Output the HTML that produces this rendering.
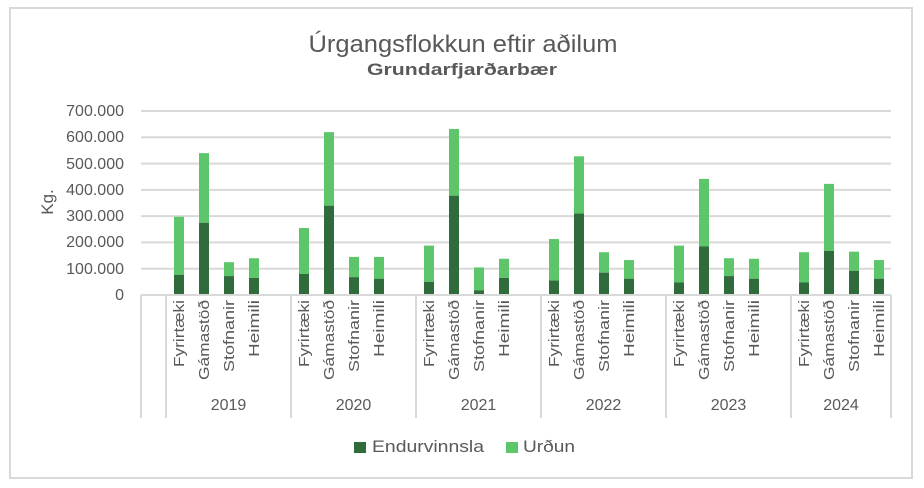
<!DOCTYPE html>
<html><head><meta charset="utf-8"><style>
html,body{margin:0;padding:0;background:#fff;}
svg{display:block;font-family:"Liberation Sans",sans-serif;}
</style></head><body>
<svg width="924" height="488" viewBox="0 0 924 488" xmlns="http://www.w3.org/2000/svg">
<rect x="10" y="8" width="902" height="470" fill="#fff" stroke="#d9d9d9" stroke-width="2"/>
<text x="463" y="52" text-anchor="middle" font-size="24" fill="#595959" textLength="309" lengthAdjust="spacingAndGlyphs">Úrgangsflokkun eftir aðilum</text>
<text x="462" y="75" text-anchor="middle" font-size="17" font-weight="bold" fill="#595959" textLength="190" lengthAdjust="spacingAndGlyphs">Grundarfjarðarbær</text>
<g stroke="#d9d9d9" stroke-width="2">
<line x1="141" x2="891" y1="111" y2="111"/>
<line x1="141" x2="891" y1="137.3" y2="137.3"/>
<line x1="141" x2="891" y1="163.6" y2="163.6"/>
<line x1="141" x2="891" y1="189.9" y2="189.9"/>
<line x1="141" x2="891" y1="216.1" y2="216.1"/>
<line x1="141" x2="891" y1="242.4" y2="242.4"/>
<line x1="141" x2="891" y1="268.7" y2="268.7"/>
</g>
<g font-size="16" fill="#595959" text-anchor="end">
<text x="124" y="116">700.000</text>
<text x="124" y="142">600.000</text>
<text x="124" y="169">500.000</text>
<text x="124" y="195">400.000</text>
<text x="124" y="221">300.000</text>
<text x="124" y="247">200.000</text>
<text x="124" y="274">100.000</text>
<text x="124" y="300">0</text>
</g>
<text transform="translate(53,202) rotate(-90)" text-anchor="middle" font-size="17" fill="#595959">Kg.</text>
<g id="bars"></g>
<g stroke="#d9d9d9" stroke-width="2">
<line x1="141" x2="891" y1="295" y2="295"/>
<line x1="141" x2="141" y1="295" y2="418"/>
<line x1="166" x2="166" y1="295" y2="418"/>
<line x1="291" x2="291" y1="295" y2="418"/>
<line x1="416" x2="416" y1="295" y2="418"/>
<line x1="541" x2="541" y1="295" y2="418"/>
<line x1="666" x2="666" y1="295" y2="418"/>
<line x1="791" x2="791" y1="295" y2="418"/>
<line x1="891" x2="891" y1="295" y2="418"/>
</g>
<g id="labels" font-size="15" fill="#595959"></g>
<rect x="354" y="442" width="12" height="11" fill="#2f6b3b"/>
<text x="372" y="452" font-size="17" fill="#595959" textLength="112" lengthAdjust="spacingAndGlyphs">Endurvinnsla</text>
<rect x="506" y="442" width="12" height="11" fill="#5dc66a"/>
<text x="523" y="452" font-size="17" fill="#595959" textLength="52" lengthAdjust="spacingAndGlyphs">Urðun</text>
<script>
var d=[[[298,77],[540,275],[125,72],[140,65]],[[255,80],[620,340],[145,68],[145,62]],[[188,50],[632,378],[105,18],[138,65]],[[213,55],[528,310],[163,85],[133,62]],[[188,48],[442,185],[140,72],[138,62]],[[163,48],[423,168],[165,92],[133,62]]];
var names=["Fyrirtæki","Gámastöð","Stofnanir","Heimili"],lens=[67,80,72,57],yrs=["2019","2020","2021","2022","2023","2024"];
var s=0.2627,ns="http://www.w3.org/2000/svg",b=document.getElementById("bars"),l=document.getElementById("labels");
function el(t,a,p,txt){var e=document.createElementNS(ns,t);for(var k in a)e.setAttribute(k,a[k]);if(txt)e.textContent=txt;p.appendChild(e);}
for(var g=0;g<6;g++){for(var i=0;i<4;i++){var cx=179+g*125+i*25,t=d[g][i][0]*s,k=d[g][i][1]*s;
el("rect",{x:cx-5,y:295-t,width:10,height:t-k,fill:"#5dc66a"},b);
el("rect",{x:cx-5,y:295-k,width:10,height:k,fill:"#2f6b3b"},b);
el("text",{transform:"translate("+(cx+5)+",300) rotate(-90)","text-anchor":"end",textLength:lens[i],lengthAdjust:"spacingAndGlyphs"},l,names[i]);}
var c=(g<5)?228.5+g*125:841;
el("text",{x:c,y:410,"text-anchor":"middle","font-size":"16"},l,yrs[g]);}
</script>
</svg>
</body></html>
